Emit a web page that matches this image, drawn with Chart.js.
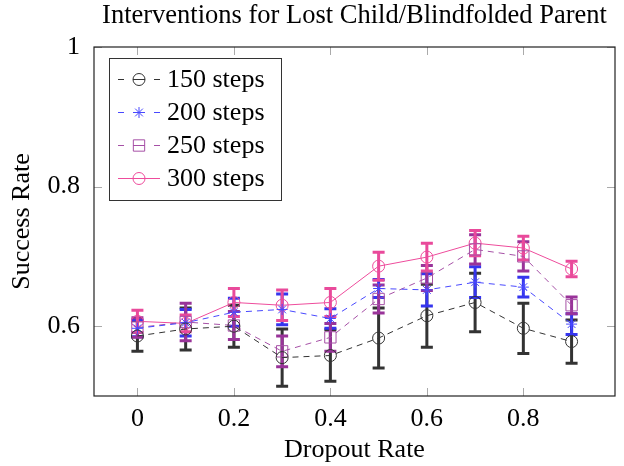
<!DOCTYPE html>
<html>
<head>
<meta charset="utf-8">
<script src="https://cdn.jsdelivr.net/npm/chart.js@4.4.1/dist/chart.umd.min.js"></script>
<style>
  html, body { margin: 0; padding: 0; background: #fff; }
  #wrap { width: 624px; height: 466px; }
</style>
</head>
<body>
<div id="wrap"><canvas id="chart" width="624" height="466"></canvas></div>
<script>
// dropout rates on x
const dropout = [0, 0.1, 0.2, 0.3, 0.4, 0.5, 0.6, 0.7, 0.8, 0.9];
const xTicks = [0, 0.2, 0.4, 0.6, 0.8];
const yTicks = [0.6, 0.8, 1];
const chartTitle = 'Interventions for Lost Child/Blindfolded Parent';

// success rates + error (half-width) per step budget
const steps150 = [0.586, 0.596, 0.600, 0.555, 0.558, 0.583, 0.615, 0.634, 0.597, 0.578];
const err150   = [0.022, 0.030, 0.030, 0.041, 0.037, 0.043, 0.045, 0.042, 0.036, 0.031];
const steps200 = [0.597, 0.605, 0.620, 0.624, 0.611, 0.654, 0.652, 0.663, 0.656, 0.603];
const err200   = [0.012, 0.019, 0.020, 0.022, 0.014, 0.013, 0.023, 0.022, 0.014, 0.015];
const steps250 = [0.598, 0.606, 0.601, 0.564, 0.584, 0.639, 0.669, 0.710, 0.700, 0.630];
const err250   = [0.014, 0.027, 0.020, 0.022, 0.020, 0.020, 0.018, 0.021, 0.021, 0.012];
const steps300 = [0.607, 0.604, 0.634, 0.630, 0.634, 0.686, 0.699, 0.719, 0.712, 0.682];
const err300   = [0.016, 0.012, 0.020, 0.022, 0.020, 0.020, 0.020, 0.018, 0.017, 0.011];

const serif = "'Liberation Serif', 'DejaVu Serif', serif";

function series(label, vals, errs, color, barColor, style, radius, dashed) {
    return {
        label: label,
        data: vals.map((v, i) => ({ x: dropout[i], y: v })),
        errors: errs,
        barColor: barColor,
        borderColor: color,
        backgroundColor: 'rgba(0,0,0,0)',
        borderWidth: 1,
        borderDash: dashed ? [6, 5] : [],
        pointStyle: style,
        pointRadius: radius,
        pointBorderWidth: 1,
        pointBorderColor: color,
        pointBackgroundColor: 'rgba(0,0,0,0)',
        tension: 0
    };
}

const datasets = [
    series('150 steps', steps150, err150, '#333333', '#333333', 'circle', 6, true),
    series('200 steps', steps200, err200, '#4848ff', '#3535ee', 'star', 5.5, true),
    series('250 steps', steps250, err250, '#a650a6', '#993399', 'rect', 8, true),
    series('300 steps', steps300, err300, '#ee4c9c', '#e94a9b', 'circle', 6, false)
];

// error bars, drawn under the lines
const errorBars = {
    id: 'errorBars',
    beforeDatasetsDraw(chart) {
        const { ctx, scales: { x, y } } = chart;
        ctx.save();
        chart.data.datasets.forEach(ds => {
            ctx.strokeStyle = ds.barColor;
            ctx.lineWidth = 3;
            ds.data.forEach((p, i) => {
                const px = x.getPixelForValue(p.x);
                const top = y.getPixelForValue(p.y + ds.errors[i]);
                const bot = y.getPixelForValue(p.y - ds.errors[i]);
                ctx.beginPath();
                ctx.moveTo(px, top); ctx.lineTo(px, bot);
                ctx.moveTo(px - 6, top); ctx.lineTo(px + 6, top);
                ctx.moveTo(px - 6, bot); ctx.lineTo(px + 6, bot);
                ctx.stroke();
            });
        });
        ctx.restore();
    }
};

// title over the plot, frame, inward ticks and legend box
const frame = {
    id: 'frame',
    afterDraw(chart) {
        const { ctx, chartArea: a, scales: { x, y } } = chart;
        ctx.save();
        ctx.fillStyle = '#000';
        ctx.font = '26.5px ' + serif;
        ctx.textAlign = 'center';
        ctx.textBaseline = 'alphabetic';
        ctx.fillText(chartTitle, (a.left + a.right) / 2, 23);
        ctx.textAlign = 'left';

        ctx.strokeStyle = '#aaaaaa';
        ctx.lineWidth = 1;
        xTicks.forEach(t => {
            const px = Math.round(x.getPixelForValue(t)) + 0.5;
            ctx.beginPath();
            ctx.moveTo(px, a.bottom); ctx.lineTo(px, a.bottom - 8);
            ctx.moveTo(px, a.top); ctx.lineTo(px, a.top + 8);
            ctx.stroke();
        });
        yTicks.forEach(t => {
            const py = Math.round(y.getPixelForValue(t)) + 0.5;
            ctx.beginPath();
            ctx.moveTo(a.left, py); ctx.lineTo(a.left + 8, py);
            ctx.moveTo(a.right, py); ctx.lineTo(a.right - 8, py);
            ctx.stroke();
        });
        ctx.strokeStyle = '#222';
        ctx.lineWidth = 1.2;
        ctx.strokeRect(a.left, a.top, a.right - a.left, a.bottom - a.top);

        // legend
        const lx = a.left + 15, ly = a.top + 11, lw = 172, lh = 142;
        ctx.fillStyle = '#fff';
        ctx.fillRect(lx, ly, lw, lh);
        ctx.strokeStyle = '#333';
        ctx.lineWidth = 1;
        ctx.strokeRect(lx + 0.5, ly + 0.5, lw, lh);
        ctx.font = '26px ' + serif;
        ctx.textBaseline = 'middle';
        chart.data.datasets.forEach((ds, i) => {
            const cy = Math.round(ly + 21 + i * 33) + 0.5;
            ctx.strokeStyle = ds.borderColor;
            ctx.lineWidth = 1;
            ctx.beginPath();
            if (ds.borderDash.length) {
                ctx.moveTo(lx + 9, cy); ctx.lineTo(lx + 15, cy);
                ctx.moveTo(lx + 24, cy); ctx.lineTo(lx + 36, cy);
                ctx.moveTo(lx + 45, cy); ctx.lineTo(lx + 51, cy);
            } else {
                ctx.moveTo(lx + 9, cy); ctx.lineTo(lx + 51, cy);
            }
            ctx.stroke();
            ctx.fillStyle = 'rgba(0,0,0,0)';
            Chart.helpers.drawPoint(ctx, {
                pointStyle: ds.pointStyle, radius: ds.pointRadius, rotation: 0, borderWidth: 1
            }, lx + 30, cy);
            ctx.fillStyle = '#000';
            ctx.fillText(ds.label, lx + 58, cy + 1);
        });
        ctx.restore();
    }
};

new Chart(document.getElementById('chart'), {
    type: 'line',
    data: { datasets: datasets },
    options: {
        responsive: false,
        animation: false,
        layout: { padding: { left: 0, right: 5, top: 47, bottom: 0 } },
        scales: {
            x: {
                type: 'linear',
                min: -0.09,
                max: 0.99,
                afterBuildTicks: s => { s.ticks = xTicks.map(v => ({ value: v })); },
                afterFit: s => { s.height = 70; },
                grid: { display: false },
                border: { display: false },
                ticks: {
                    color: '#000',
                    font: { family: serif, size: 26 },
                    padding: 0,
                    maxRotation: 0,
                    callback: v => String(v)
                },
                title: {
                    display: true,
                    text: 'Dropout Rate',
                    color: '#000',
                    font: { family: serif, size: 26 },
                    padding: { top: 0, bottom: 0 }
                }
            },
            y: {
                min: 0.5,
                max: 1,
                afterBuildTicks: s => { s.ticks = yTicks.map(v => ({ value: v })); },
                afterFit: s => { s.width = 94; },
                grid: { display: false },
                border: { display: false },
                ticks: {
                    color: '#000',
                    font: { family: serif, size: 26 },
                    padding: 6,
                    callback: v => String(v)
                },
                title: {
                    display: true,
                    text: 'Success Rate',
                    color: '#000',
                    font: { family: serif, size: 26 },
                    padding: { top: 7, bottom: 0 }
                }
            }
        },
        plugins: {
            legend: { display: false },
            tooltip: { enabled: false },
            title: { display: false }
        }
    },
    plugins: [errorBars, frame]
});
</script>
</body>
</html>
